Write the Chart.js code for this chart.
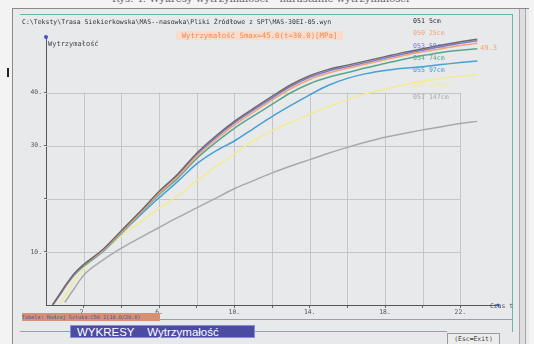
<!DOCTYPE html>
<html lang="pl">
<head>
<meta charset="utf-8">
<script src="https://cdn.jsdelivr.net/npm/chart.js@4.4.1/dist/chart.umd.min.js"></script>
<style>
  html, body { margin: 0; padding: 0; }
  body { width: 534px; height: 344px; position: relative; overflow: hidden; background: #f3f3f3; font-family: 'DejaVu Sans Mono', monospace; }
  #okno { position: absolute; left: 12px; top: 8px; width: 516px; height: 340px; background: #e8e9eb; border-left: 1px solid #8a8a8a; border-top: 1px solid #8a8a8a; }
  #pasek { position: absolute; left: 519px; top: 9px; width: 5px; height: 340px; background: #dedede; border-left: 1px solid #a8a8a8; border-right: 1px solid #a8a8a8; }
  #wykres { position: absolute; left: 0; top: 0; }
  .t { position: absolute; white-space: nowrap; }
  .linia { position: absolute; background: #6fb3ad; }
</style>
</head>
<body>
<div id="okno"></div>
<div id="pasek"></div>
<div class="t" style="left:112px; top:-7px; font: 10px 'DejaVu Serif', serif; color:#666;">Rys. 4. Wykresy wytrzymałości – narastanie wytrzymałości</div>
<div style="position:absolute; left:7px; top:68px; width:2px; height:9px; background:#222;"></div>
<div class="linia" style="left:20px; top:14px; width:492px; height:1px;"></div>
<div class="linia" style="left:512px; top:14px; width:1px; height:318px;"></div>
<div class="linia" style="left:160px; top:319px; width:352px; height:1px;"></div>
<div class="linia" style="left:20px; top:331px; width:427px; height:1px;"></div>
<canvas id="wykres" width="534" height="344"></canvas>
<div class="t" style="left:22px; top:18px; font-size:6.5px; color:#333;">C:\Teksty\Trasa Siekierkowska\MAS--nasowka\Pliki Źródłowe z SPT\MAS-30EI-05.wyn</div>
<div class="t" style="left:176px; top:31px; width:167px; height:9px; font-size:7.4px; line-height:9px; text-align:center; color:#f08a50; background:#f9dccb;">Wytrzymałość Smax=45.0(t=30.0)[MPa]</div>
<div class="t" style="left:48px; top:40px; font-size:7px; color:#444;">Wytrzymałość</div>
<div class="t" style="left:490px; top:302px; font-size:6.4px; color:#555;">Czas t</div>
<div class="t" style="left:480px; top:44px; font-size:7px; color:#f4a272;">49.3</div>
<div id="legenda"></div>
<div class="t" style="left:22px; top:313px; width:138px; height:8px; background:#d98f74; font-size:5.2px; line-height:8px; color:#3a5aa8; overflow:hidden;">Tabela: Rodzaj  Sztuka:C56 1(10.0/20.0)</div>
<div class="t" style="left:70px; top:325px; width:185px; height:13px; background:#4b4ba3; border:1px solid #8c8cd0; color:#fff; font: 11.5px 'Liberation Sans', Arial, sans-serif; line-height:12px; padding-left:6px; box-sizing:border-box;">WYKRESY&nbsp;&nbsp;&nbsp;&nbsp;Wytrzymałość</div>
<div class="t" style="left:447px; top:333px; width:51px; height:11px; background:#ececec; border:1px solid #9a9a9a; font-size:6.4px; line-height:11px; text-align:center; color:#444;">(Esc=Exit)</div>
<script>
// dane
const czas = [0.35, 0.8, 1, 1.5, 2, 3, 4, 5, 6, 7, 8, 9, 10, 11, 12, 13, 14, 15, 16, 17, 18, 19, 20, 21, 22, 22.9];
const s051 = [0, 2.4, 3.5, 5.9, 7.6, 10.4, 14.0, 17.6, 21.4, 24.7, 28.6, 31.8, 34.6, 37.0, 39.3, 41.5, 43.2, 44.4, 45.2, 46.0, 46.8, 47.6, 48.3, 49.0, 49.6, 50.1];
const s053 = [0, 2.4, 3.5, 5.9, 7.6, 10.3, 13.9, 17.5, 21.2, 24.5, 28.3, 31.5, 34.3, 36.7, 39.0, 41.2, 42.9, 44.1, 44.9, 45.7, 46.5, 47.3, 48.0, 48.7, 49.3, 49.8];
const s050 = [0, 2.3, 3.4, 5.8, 7.5, 10.2, 13.7, 17.3, 21.0, 24.2, 28.0, 31.1, 33.9, 36.3, 38.6, 40.8, 42.5, 43.7, 44.6, 45.4, 46.2, 47.0, 47.7, 48.3, 48.9, 49.3];
const s054 = [0, 2.3, 3.4, 5.8, 7.5, 10.2, 13.6, 17.2, 20.8, 23.9, 27.6, 30.6, 33.3, 35.6, 37.8, 40.0, 41.7, 42.9, 43.8, 44.7, 45.5, 46.3, 47.0, 47.6, 48.0, 48.3];
const s055 = [0, 2.2, 3.3, 5.6, 7.3, 10.0, 13.5, 16.9, 20.2, 23.3, 26.6, 29.0, 30.9, 33.2, 35.5, 37.6, 39.6, 41.4, 42.7, 43.6, 44.2, 44.6, 44.9, 45.3, 45.7, 46.0];
const s056 = [null, 0.3, 1.6, 4.5, 6.8, 10.0, 13.0, 15.6, 18.2, 20.6, 23.4, 26.0, 28.5, 30.9, 32.8, 34.4, 35.9, 37.4, 38.7, 39.8, 40.7, 41.5, 42.2, 42.7, 43.1, 43.4];
const s057 = [null, null, 0.5, 3.1, 5.6, 8.4, 10.7, 12.7, 14.6, 16.5, 18.3, 20.1, 21.9, 23.4, 24.9, 26.2, 27.4, 28.6, 29.7, 30.7, 31.6, 32.3, 33.0, 33.6, 34.2, 34.6];
const etykiety = ['051 5cm', '050 25cm', '053 50cm', '054 74cm', '055 97cm', '056 120cm', '057 147cm'];
const kolory = ['#6f6969', '#f2a37a', '#7a7ad6', '#56a78a', '#45a0d6', '#f3ea94', '#a9a9a9'];
const xTicks = [2, 4, 6, 8, 10, 12, 14, 16, 18, 20, 22];
const xOpisy = [2, 6, 10, 14, 18, 22];
const yTicks = [10, 20, 30, 40];
const yOpisy = [10, 30, 40];

const serie = [s051, s050, s053, s054, s055, s056, s057];

// legenda po prawej stronie, kolorowy tekst
const legenda = document.getElementById('legenda');
const legendaY = [17, 29, 42, 54, 66, 81, 93];
etykiety.forEach(function (e, i) {
    let d = document.createElement('div');
    d.className = 't';
    d.style.left = '413px';
    d.style.top = legendaY[i] + 'px';
    d.style.fontSize = '6.6px';
    d.style.color = i === 0 ? '#333' : kolory[i];
    d.textContent = e;
    legenda.appendChild(d);
});

// siatka tylko w zakresie 0-22 / 0-40
const siatka = {
    id: 'siatka',
    beforeDatasetsDraw(chart) {
        const c = chart.ctx, x = chart.scales.x, y = chart.scales.y;
        c.save();
        c.strokeStyle = '#c4c5c8';
        c.lineWidth = 1;
        xTicks.forEach(function (v) {
            let px = Math.round(x.getPixelForValue(v)) + 0.5;
            c.beginPath();
            c.moveTo(px, y.getPixelForValue(0));
            c.lineTo(px, y.getPixelForValue(40));
            c.stroke();
        });
        yTicks.forEach(function (v) {
            let py = Math.round(y.getPixelForValue(v)) + 0.5;
            c.beginPath();
            c.moveTo(x.getPixelForValue(0), py);
            c.lineTo(x.getPixelForValue(22), py);
            c.stroke();
        });
        c.restore();
    },
    afterDraw(chart) {
        const c = chart.ctx, x = chart.scales.x, y = chart.scales.y;
        c.save();
        c.fillStyle = '#3b55c8';
        c.beginPath();
        c.arc(x.getPixelForValue(0), y.getPixelForValue(y.max), 2, 0, Math.PI * 2);
        c.fill();
        c.beginPath();
        c.arc(x.getPixelForValue(x.max), y.getPixelForValue(0), 1.5, 0, Math.PI * 2);
        c.fill();
        c.restore();
    }
};

Chart.defaults.font.family = "'DejaVu Sans Mono', monospace";
Chart.defaults.font.size = 6.4;
Chart.defaults.color = '#555';

let ctx = document.getElementById('wykres').getContext('2d');
let wykres = new Chart(ctx, {
    type: 'line',
    data: {
        datasets: serie.map(function (s, i) {
            return {
                label: etykiety[i],
                data: s.map(function (v, j) { return { x: czas[j], y: v }; }),
                borderColor: kolory[i],
                borderWidth: 1.5,
                pointRadius: 0,
                cubicInterpolationMode: 'monotone',
                order: i
            };
        })
    },
    options: {
        responsive: false,
        animation: false,
        events: [],
        layout: { padding: { left: 0, top: 37, right: 36, bottom: 0 } },
        plugins: { legend: { display: false }, tooltip: { enabled: false } },
        scales: {
            x: {
                type: 'linear',
                min: 0,
                max: 24,
                afterBuildTicks: function (s) { s.ticks = xTicks.map(function (v) { return { value: v }; }); },
                afterFit: function (s) { s.height = 39; },
                ticks: {
                    autoSkip: false,
                    maxRotation: 0,
                    padding: 1,
                    callback: function (v) { return xOpisy.includes(v) ? v + '.' : ''; }
                },
                grid: { drawOnChartArea: false, drawTicks: true, tickLength: 3, color: '#666' },
                border: { color: '#555', width: 1 }
            },
            y: {
                min: 0,
                max: 50.5,
                afterBuildTicks: function (s) { s.ticks = yTicks.map(function (v) { return { value: v }; }); },
                afterFit: function (s) { s.width = 46; },
                ticks: {
                    autoSkip: false,
                    padding: 2,
                    callback: function (v) { return yOpisy.includes(v) ? v + '.' : ''; }
                },
                grid: { drawOnChartArea: false, drawTicks: true, tickLength: 2, color: '#666' },
                border: { color: '#555', width: 1 }
            }
        }
    },
    plugins: [siatka]
});
</script>
</body>
</html>
